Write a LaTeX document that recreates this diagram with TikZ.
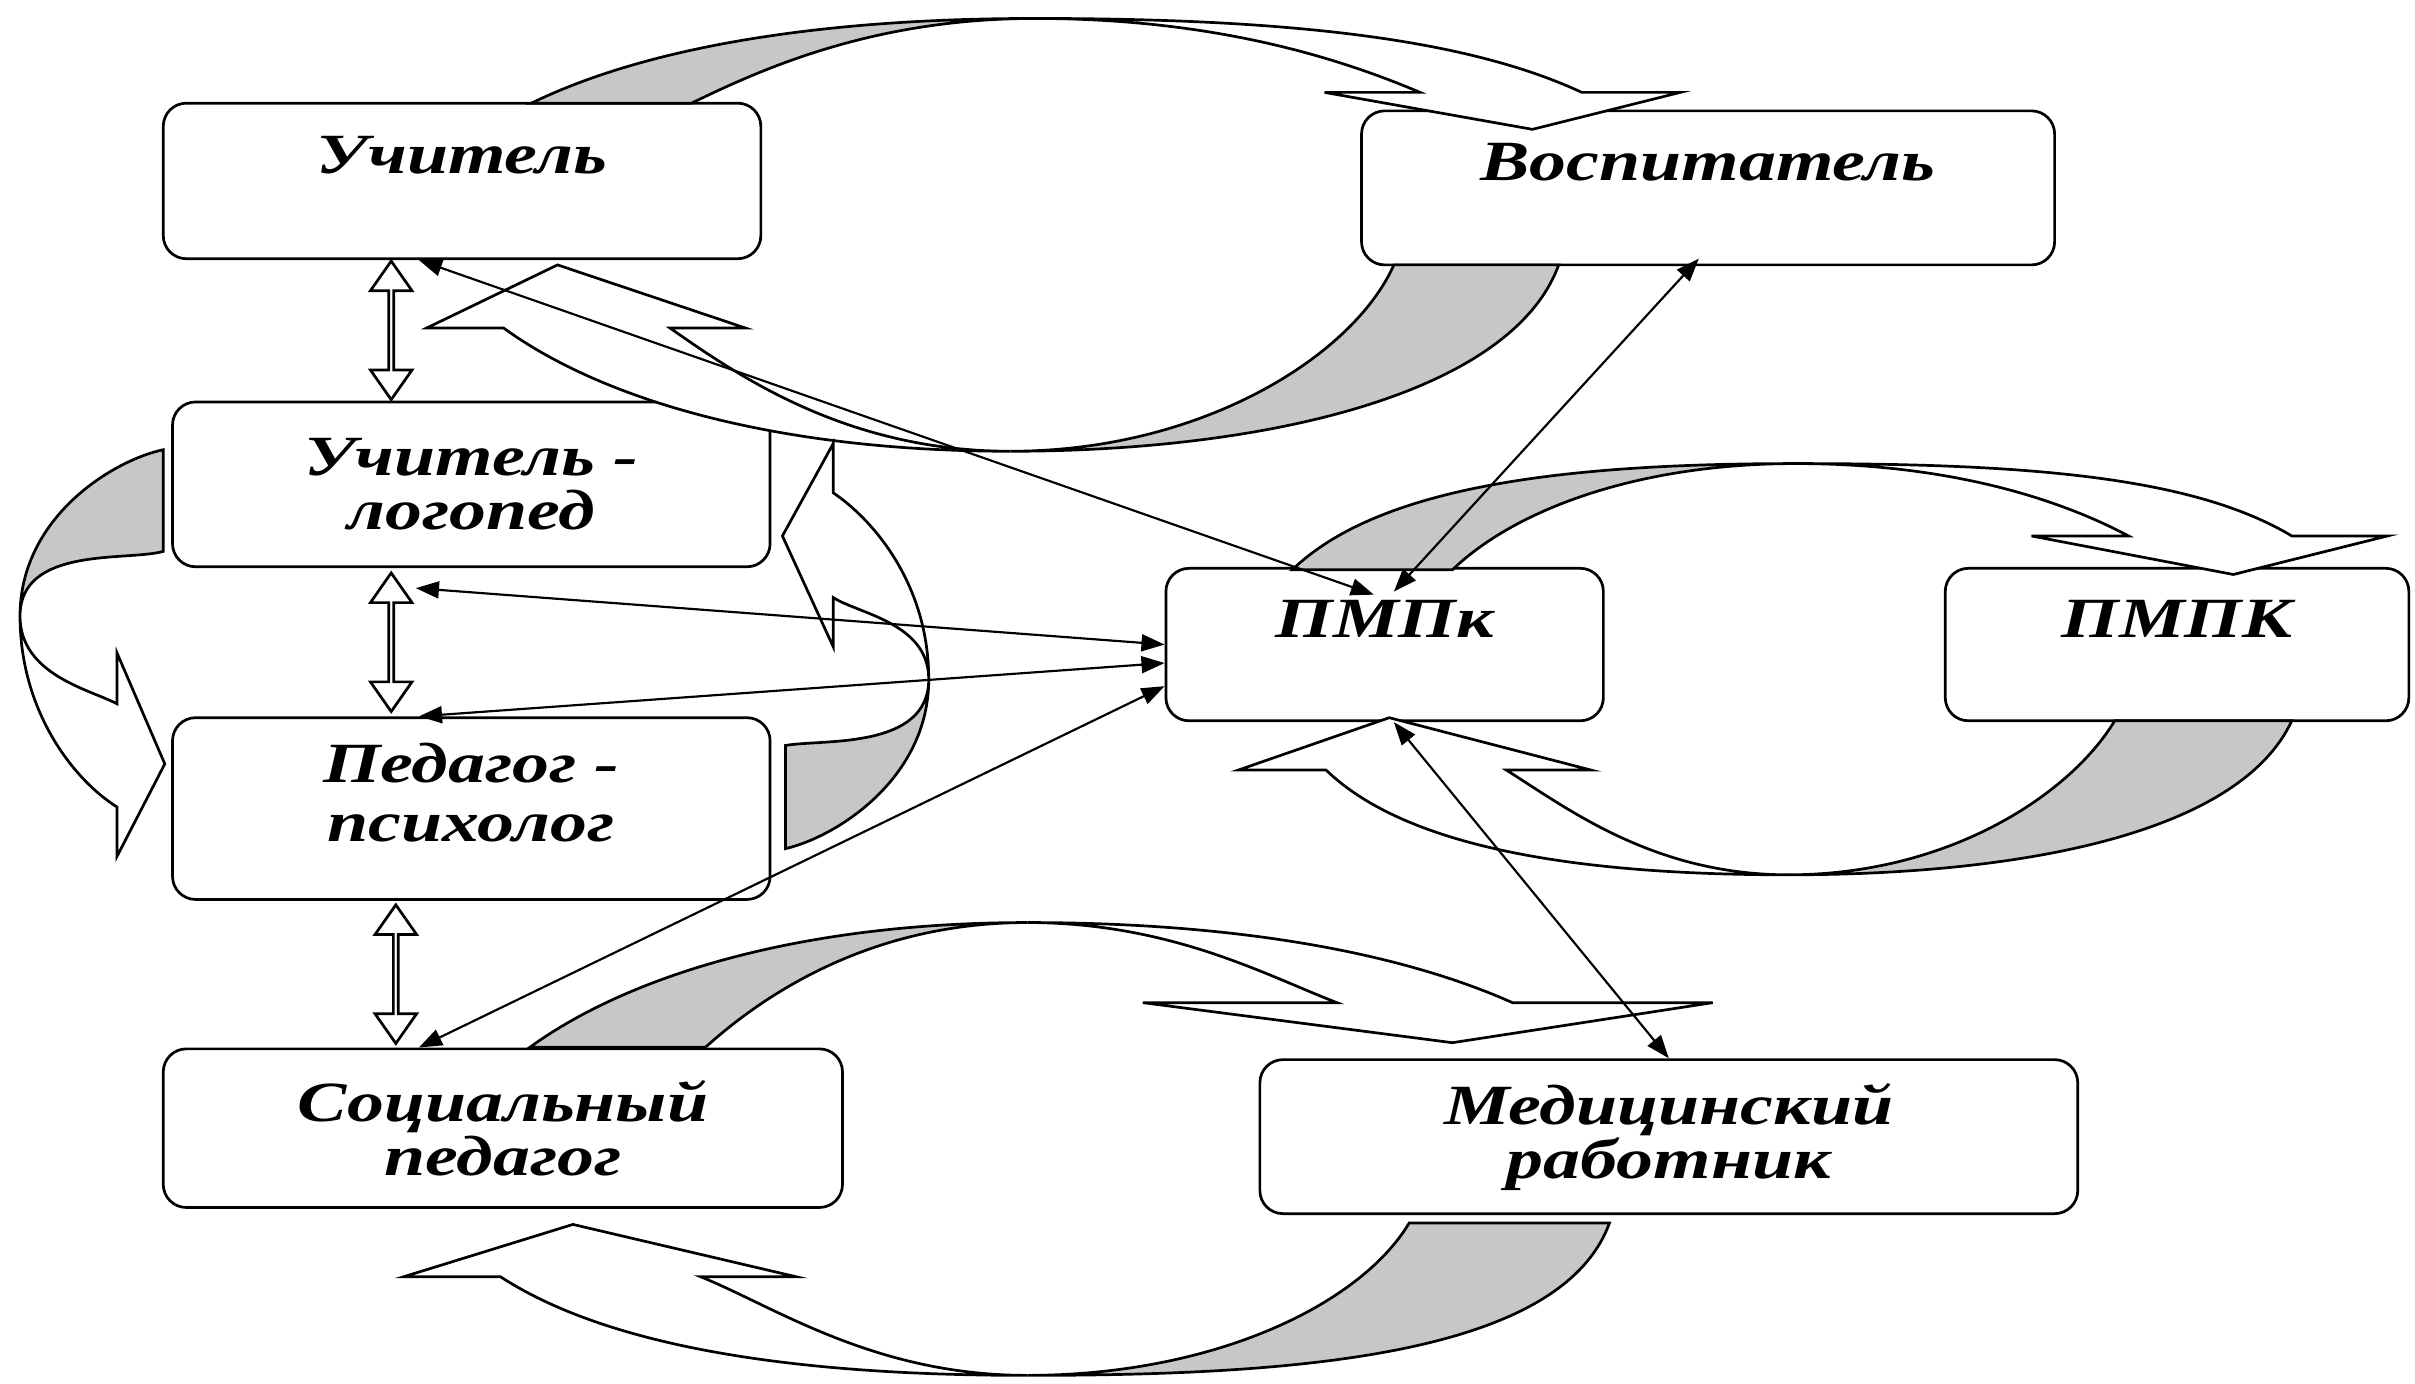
\documentclass[tikz,border=0pt]{standalone}
\usepackage{fontspec}
\newfontfamily\boxfont[FakeStretch=1.3]{Liberation Serif}
\usetikzlibrary{arrows.meta,shapes.arrows}
\definecolor{ribbongray}{gray}{0.78}

\begin{document}
\begin{tikzpicture}[
  box/.style={draw, line width=0.5pt, rounded corners=0.15cm, fill=white, align=center,
    inner sep=0pt, font=\boxfont\bfseries\itshape\fontsize{10.5}{10}\selectfont},
  oneline/.style={text depth=9.5pt},
  link/.style={line width=0.4pt, {Triangle[length=1.5mm,width=1.1mm]}-{Triangle[length=1.5mm,width=1.1mm]}},
  twoway/.style={draw, line width=0.5pt, fill=white, double arrow, rotate=90, inner sep=0pt,
    minimum width=0.27cm, minimum height=0.9cm, double arrow head extend=0.065cm,
    double arrow tip angle=70},
  back/.style={draw, line width=0.5pt, fill=ribbongray},
  front/.style={draw, line width=0.5pt, fill=white},
  toapex/.style={out looseness=0.6, in looseness=1.15},
  fromapex/.style={out looseness=1.15, in looseness=0.6}
]
\useasboundingbox (0,0) rectangle (15.68,8.98);

% boxes
\node[box, oneline, minimum width=3.88cm, minimum height=1.01cm] (uch) at (3.00,7.805) {Учитель};
\node[box, oneline, minimum width=4.50cm, minimum height=1.00cm] (vos) at (11.09,7.76) {Воспитатель};
\node[box, minimum width=3.88cm, minimum height=1.07cm] (log) at (3.06,5.835) {Учитель -\\логопед};
\node[box, text depth=6pt, minimum width=3.88cm, minimum height=1.18cm] (psy) at (3.06,3.73) {Педагог -\\[1pt]психолог};
\node[box, oneline, minimum width=2.84cm, minimum height=0.99cm] (pmpk) at (8.99,4.795) {ПМПк};
\node[box, oneline, minimum width=3.01cm, minimum height=0.99cm] (pmpkb) at (14.135,4.795) {ПМПК};
\node[box, minimum width=4.41cm, minimum height=1.03cm] (soc) at (3.265,1.655) {Социальный\\педагог};
\node[box, minimum width=5.31cm, minimum height=1.00cm] (med) at (10.835,1.60) {Медицинский\\работник};

% curved ribbons, top pair
\filldraw[back] (3.45,8.31) to[out=26,in=180,toapex] (6.72,8.86) to[out=180,in=26,fromapex] (4.49,8.31) -- cycle;
\filldraw[front] (6.72,8.86) to[out=0,in=155,fromapex] (10.27,8.38) -- (10.91,8.38) -- (9.95,8.14)
  -- (8.60,8.38) -- (9.22,8.38) to[out=157,in=0,toapex] (6.72,8.86) -- cycle;
\filldraw[back] (10.12,7.26) to[out=-110,in=0,toapex] (6.56,6.05) to[out=0,in=-114,fromapex] (9.05,7.26) -- cycle;
\filldraw[front] (6.56,6.05) to[out=180,in=-36,fromapex] (3.27,6.85) -- (2.77,6.85) -- (3.62,7.26)
  -- (4.84,6.85) -- (4.35,6.85) to[out=-35,in=180,toapex] (6.56,6.05) -- cycle;

% curved ribbons, left pair
\filldraw[back] (1.06,6.06) to[out=192,in=90,toapex] (0.13,4.98) to[out=90,in=196,fromapex] (1.06,5.40) -- cycle;
\filldraw[front] (0.13,4.98) to[out=-90,in=148,fromapex] (0.76,3.74) -- (0.76,3.42) -- (1.07,4.02)
  -- (0.76,4.74) -- (0.76,4.41) to[out=152,in=-90,toapex] (0.13,4.98) -- cycle;
\filldraw[back] (5.10,3.47) to[out=13,in=-90,toapex] (6.03,4.57) to[out=-90,in=10,fromapex] (5.10,4.14) -- cycle;
\filldraw[front] (6.03,4.57) to[out=90,in=-34,fromapex] (5.41,5.78) -- (5.41,6.10) -- (5.08,5.50)
  -- (5.41,4.78) -- (5.41,5.10) to[out=-33,in=90,toapex] (6.03,4.57) -- cycle;

% curved ribbons, right pair
\filldraw[back] (8.39,5.28) to[out=44,in=180,toapex] (11.66,5.97) to[out=180,in=44,fromapex] (9.43,5.28) -- cycle;
\filldraw[front] (11.66,5.97) to[out=0,in=149,fromapex] (14.88,5.50) -- (15.50,5.50) -- (14.50,5.25)
  -- (13.19,5.50) -- (13.82,5.50) to[out=152,in=0,toapex] (11.66,5.97) -- cycle;
\filldraw[back] (14.88,4.30) to[out=-115,in=0,toapex] (11.61,3.30) to[out=0,in=-121,fromapex] (13.73,4.30) -- cycle;
\filldraw[front] (11.61,3.30) to[out=180,in=-44,fromapex] (8.61,3.98) -- (8.04,3.98) -- (9.02,4.32)
  -- (10.33,3.98) -- (9.78,3.98) to[out=-32,in=180,toapex] (11.61,3.30) -- cycle;

% curved ribbons, bottom pair
\filldraw[back] (3.44,2.18) to[out=36,in=180,toapex] (6.67,2.99) to[out=180,in=42,fromapex] (4.58,2.18) -- cycle;
\filldraw[front] (6.67,2.99) to[out=0,in=156,fromapex] (9.82,2.47) -- (11.12,2.47) -- (9.43,2.21)
  -- (7.42,2.47) -- (8.68,2.47) to[out=159,in=0,toapex] (6.67,2.99) -- cycle;
\filldraw[back] (10.45,1.04) to[out=-110,in=0,toapex] (6.67,0.05) to[out=0,in=-121,fromapex] (9.15,1.04) -- cycle;
\filldraw[front] (6.67,0.05) to[out=180,in=-33,fromapex] (3.25,0.69) -- (2.62,0.69) -- (3.72,1.03)
  -- (5.17,0.69) -- (4.55,0.69) to[out=-22,in=180,toapex] (6.67,0.05) -- cycle;

% links to ПМПк
\draw[link] ([xshift=-0.28cm]uch.south) -- ([xshift=-0.07cm,yshift=-0.18cm]pmpk.north);
\draw[link] ([xshift=0.06cm,yshift=-0.16cm]pmpk.north) -- ([xshift=-0.06cm,yshift=0.05cm]vos.south);
\draw[link] ([xshift=-0.36cm,yshift=-0.13cm]log.south) -- (pmpk.west);
\draw[link] ([xshift=-0.34cm]psy.north) -- ([yshift=-0.12cm]pmpk.west);
\draw[link] ([xshift=-0.545cm]soc.north) -- ([yshift=-0.27cm]pmpk.west);
\draw[link] ([xshift=0.06cm]pmpk.south) -- (med.north);

% hollow two-way arrows
\path ([xshift=-0.46cm]uch.south) -- ([xshift=-0.52cm]log.north) node[midway, twoway] (d1) {};
\path ([xshift=-0.52cm]log.south) -- ([xshift=-0.52cm]psy.north) node[midway, twoway] (d2) {};
\path ([xshift=-0.49cm]psy.south) -- ([xshift=-0.695cm]soc.north) node[midway, twoway] (d3) {};
\end{tikzpicture}
\end{document}
